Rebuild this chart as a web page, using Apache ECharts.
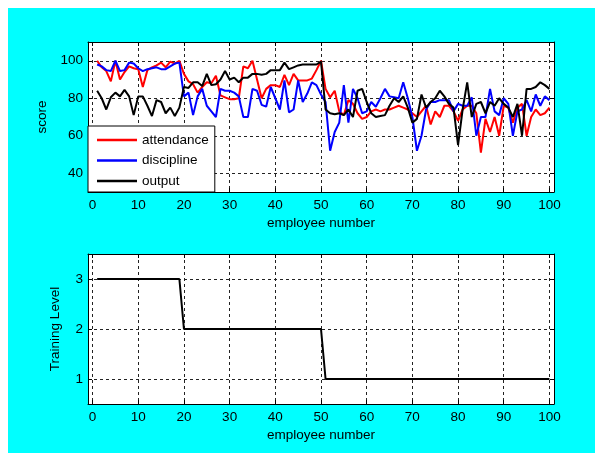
<!DOCTYPE html>
<html>
<head>
<meta charset="utf-8">
<script src="https://cdn.jsdelivr.net/npm/echarts@6/dist/echarts.min.js"></script>
<style>
  html, body { margin: 0; padding: 0; background: #ffffff; }
  #frame { position: absolute; left: 8px; top: 8px; width: 587px; height: 445px; background: #00ffff; }
  #chart { position: absolute; left: 0; top: 0; width: 595px; height: 453px; }
</style>
</head>
<body>
<div id="frame"></div>
<div id="chart"></div>
<script>
// Employee scores (upper panel) and training level (lower panel)
const employees = Array.from({ length: 100 }, (_, i) => i + 1);

const attendance = [
  100, 96.5, 94.5, 89, 100, 90, 94, 97, 96, 95.5,
  86, 95, 96.5, 97.5, 99, 96.5, 99.5, 98.5, 100, 93,
  89, 87.5, 83, 86, 88.5, 88, 92, 81.5, 80.5, 79.5,
  79.5, 80, 97, 96, 100, 90, 80, 85, 87, 87,
  86, 92.5, 87, 93, 89.5, 89.5, 89.5, 90.5, 95, 100,
  85, 80.5, 84, 73, 71, 79, 77, 72, 69, 70,
  73, 74, 73, 74, 74, 75, 76, 75, 74, 72,
  70, 73, 76, 66, 73, 70, 76, 76, 73, 68,
  74, 76, 76, 72, 51, 69, 62, 70, 60, 76,
  75, 67, 75, 77, 60, 70, 74, 71, 72, 75
];

const discipline = [
  98, 97, 95, 94.5, 100, 94.5, 95, 99, 98.5, 96,
  94.5, 95.5, 96, 96.5, 95.5, 95.5, 97, 98.5, 99, 81,
  83, 71, 81, 85, 76, 73, 70, 85, 84, 84,
  83, 81, 70, 70, 85, 84, 76.5, 75.5, 86, 80,
  74, 89.5, 72.5, 74, 89.5, 78, 82.5, 88.5, 87, 82,
  78, 52, 62, 67, 87, 67, 85, 80, 72, 73,
  78, 75.5, 80, 85, 81, 80.5, 80, 88.5, 80, 70,
  52, 60, 74, 78, 78, 79, 79, 79, 73, 77,
  76, 76, 80.5, 60, 70, 70, 85, 73, 71, 80,
  77, 60, 73, 74, 79, 73, 82, 76, 81, 79
];

const output = [
  84, 80, 74, 80.5, 83, 81, 84.5, 81, 71, 81,
  81, 76, 70.5, 79, 78, 72, 75, 70.5, 75, 86,
  85.5, 88.5, 88.5, 86.5, 93, 87, 87.5, 90, 94.5, 90,
  91, 88.5, 91, 91, 93, 93, 92.5, 93, 95, 95,
  95, 99, 95.5, 96.5, 97.5, 98, 98, 98, 98, 99.5,
  74, 72, 71.5, 72, 71, 74, 70, 84, 85, 78,
  72, 70, 70.5, 71, 76, 80, 78, 81, 75, 67,
  69, 82, 75, 78, 80, 84, 81, 77, 75, 55,
  74, 88.5, 70, 77, 78, 72, 78, 76, 80, 77,
  75, 70, 77, 60, 85, 85, 86, 88.5, 87, 85
];

const trainingLevel = employees.map(n => (n <= 19 ? 3 : n <= 50 ? 2 : 1));

const xTicks = [0, 10, 20, 30, 40, 50, 60, 70, 80, 90, 100];
const scoreTicks = [40, 60, 80, 100];
const levelTicks = [1, 2, 3];

const FONT = 'Liberation Sans, Arial, Helvetica, sans-serif';
const FS = 13.5;
const TXT = '#000000';

const pairs = (ys) => employees.map((x, i) => [x, ys[i]]);

const grid1 = { left: 88, top: 42, width: 466, height: 150 };
const grid2 = { left: 88, top: 254, width: 466, height: 150 };

const dashed = { show: true, lineStyle: { color: '#222222', width: 1, type: [3, 3] } };

function xAxisPair(gridIndex) {
  return [
    {
      type: 'value', gridIndex, min: -1, max: 101, position: 'bottom',
      name: 'employee number', nameLocation: 'middle', nameGap: 24,
      nameTextStyle: { color: TXT, fontFamily: FONT, fontSize: FS },
      axisLine: { show: true, onZero: false, lineStyle: { color: '#000', width: 1 } },
      axisTick: { show: true, inside: true, length: 4, customValues: xTicks, lineStyle: { color: '#000' } },
      axisLabel: { customValues: xTicks, color: TXT, fontFamily: FONT, fontSize: FS, margin: 6 },
      splitLine: dashed
    },
    {
      type: 'value', gridIndex, min: -1, max: 101, position: 'top',
      axisLine: { show: true, onZero: false, lineStyle: { color: '#000', width: 1 } },
      axisTick: { show: true, inside: true, length: 4, customValues: xTicks, lineStyle: { color: '#000' } },
      axisLabel: { show: false },
      splitLine: { show: false }
    }
  ];
}

function yAxisPair(gridIndex, min, max, ticks, name, gap) {
  return [
    {
      type: 'value', gridIndex, min, max, position: 'left',
      name, nameLocation: 'middle', nameGap: gap,
      nameTextStyle: { color: TXT, fontFamily: FONT, fontSize: FS },
      axisLine: { show: true, onZero: false, lineStyle: { color: '#000', width: 1 } },
      axisTick: { show: true, inside: true, length: 4, customValues: ticks, lineStyle: { color: '#000' } },
      axisLabel: { customValues: ticks, color: TXT, fontFamily: FONT, fontSize: FS, margin: 5 },
      splitLine: dashed
    },
    {
      type: 'value', gridIndex, min, max, position: 'right',
      axisLine: { show: true, onZero: false, lineStyle: { color: '#000', width: 1 } },
      axisTick: { show: true, inside: true, length: 4, customValues: ticks, lineStyle: { color: '#000' } },
      axisLabel: { show: false },
      splitLine: { show: false }
    }
  ];
}

const lineSeries = (name, data, color, xi, yi) => ({
  name, type: 'line', data: pairs(data), xAxisIndex: xi, yAxisIndex: yi,
  symbol: 'none', showSymbol: false, animation: false, clip: true,
  lineStyle: { color, width: 2 }, itemStyle: { color }
});

const chart = echarts.init(document.getElementById('chart'), null, { renderer: 'canvas' });
chart.setOption({
  backgroundColor: 'transparent',
  animation: false,
  textStyle: { fontFamily: FONT },
  grid: [
    Object.assign({ show: true, backgroundColor: '#ffffff', borderWidth: 0, containLabel: false }, grid1),
    Object.assign({ show: true, backgroundColor: '#ffffff', borderWidth: 0, containLabel: false }, grid2)
  ],
  xAxis: [...xAxisPair(0), ...xAxisPair(1)],
  yAxis: [
    ...yAxisPair(0, 30, 110, scoreTicks, 'score', 34),
    ...yAxisPair(1, 0.5, 3.5, levelTicks, 'Training Level', 26)
  ],
  legend: {
    orient: 'vertical', left: 88, top: 126,
    data: ['attendance', 'discipline', 'output'],
    icon: 'rect',
    backgroundColor: '#ffffff', borderColor: '#000000', borderWidth: 1, borderRadius: 0,
    padding: [7, 6, 4, 9], itemGap: 6.5, itemWidth: 40, itemHeight: 2.5,
    textStyle: { color: TXT, fontFamily: FONT, fontSize: FS, lineHeight: 14 },
    selectedMode: false
  },
  series: [
    lineSeries('attendance', attendance, '#ff0000', 0, 0),
    lineSeries('discipline', discipline, '#0000ff', 0, 0),
    lineSeries('output', output, '#000000', 0, 0),
    lineSeries('Training Level', trainingLevel, '#000000', 2, 2)
  ]
});
</script>
</body>
</html>
